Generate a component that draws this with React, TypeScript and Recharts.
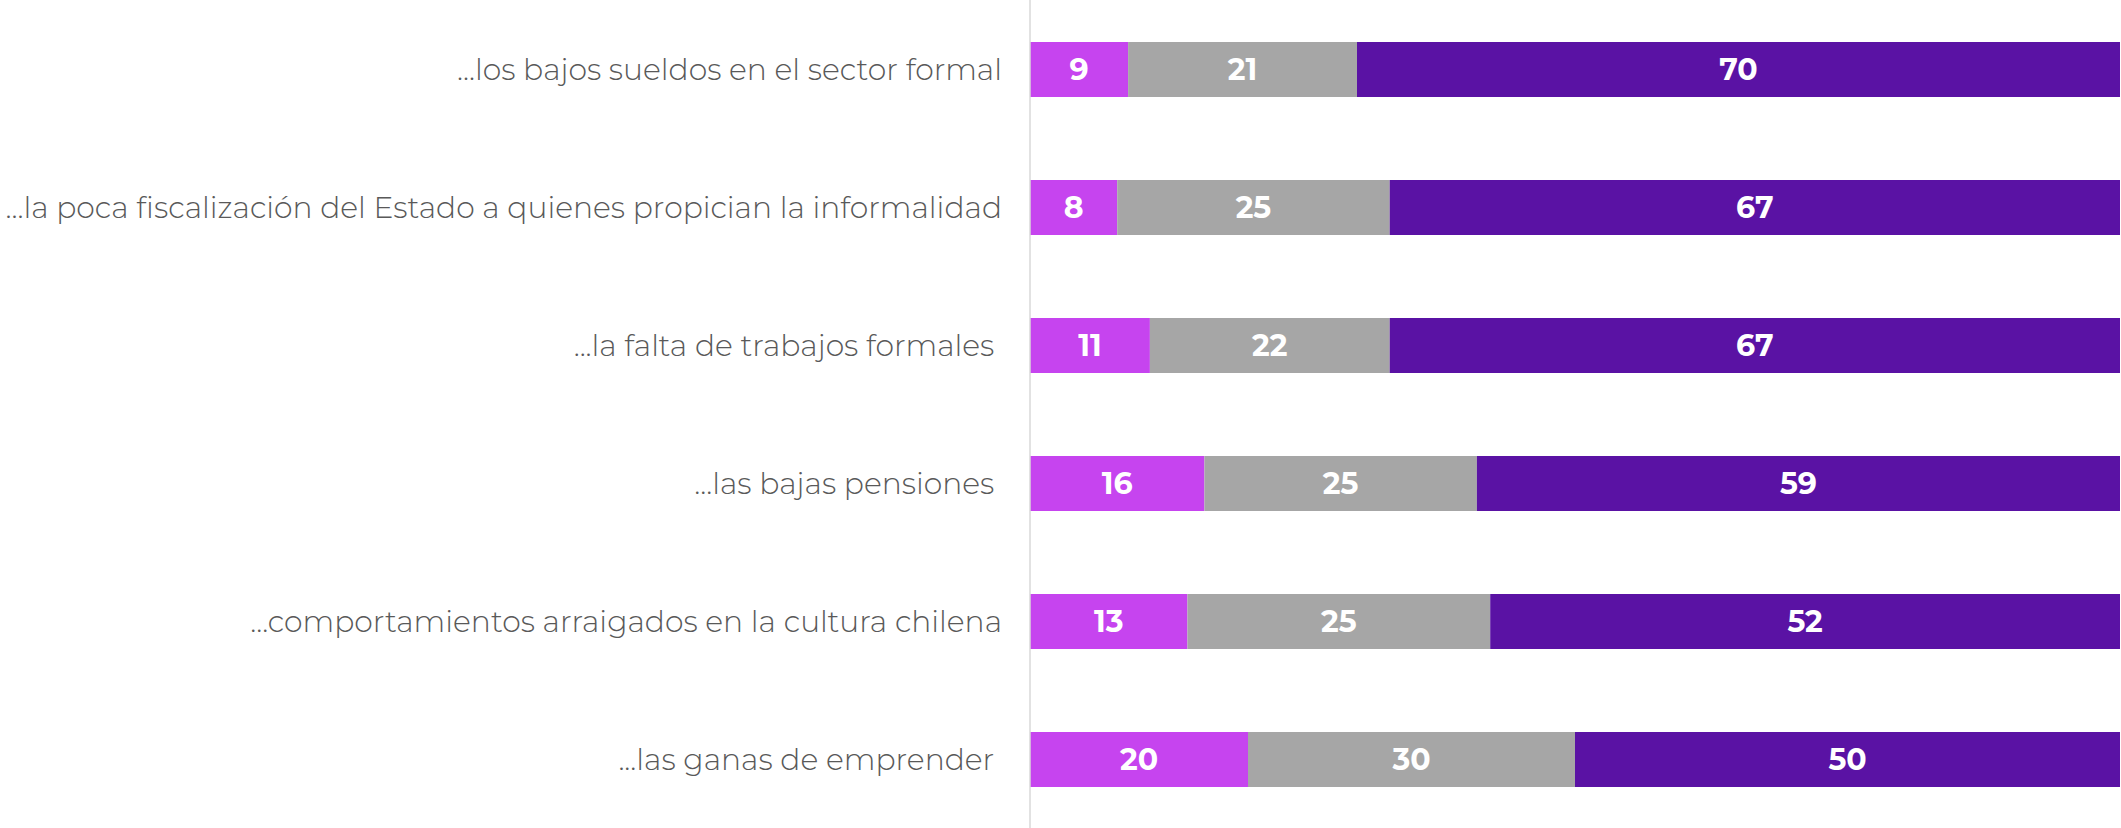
import { BarChart, Bar, XAxis, YAxis, LabelList } from 'recharts';

const categories = [
  '...los bajos sueldos en el sector formal',
  '...la poca fiscalización del Estado a quienes propician la informalidad',
  '...la falta de trabajos formales\u00a0',
  '...las bajas pensiones\u00a0',
  '...comportamientos arraigados en la cultura chilena',
  '...las ganas de emprender\u00a0',
];

const lowValues = [9, 8, 11, 16, 13, 20];
const midValues = [21, 25, 22, 25, 25, 30];
const highValues = [70, 67, 67, 59, 52, 50];

const COLORS = ['#C644EF', '#A6A6A6', '#5A12A4'];

const data = categories.map((name, i) => ({
  name,
  low: lowValues[i],
  mid: midValues[i],
  high: highValues[i],
}));

const labelStyle = {
  fill: '#ffffff',
  fontSize: 30,
  fontWeight: 700,
  fontFamily: 'Montserrat, "Open Sans", sans-serif',
};

export default function App() {
  return (
    <div style={{ position: 'absolute', left: 0, top: 0, background: '#fff' }}>
      <BarChart
        width={2121}
        height={828}
        data={data}
        layout="vertical"
        stackOffset="expand"
        margin={{ top: 0, right: 1, bottom: 0, left: 0 }}
      >
        <XAxis type="number" hide domain={[0, 1]} />
        <YAxis
          type="category"
          dataKey="name"
          width={1030}
          tickLine={false}
          tickSize={0}
          tickMargin={28}
          axisLine={{ stroke: '#d9d9d9', strokeWidth: 1.5 }}
          tick={{ fill: '#595959', fontSize: 29.8, fontFamily: 'Montserrat, "Open Sans", sans-serif', fontWeight: 300 }}
          interval={0}
        />
        <Bar dataKey="low" stackId="a" fill={COLORS[0]} barSize={55} isAnimationActive={false}>
          <LabelList dataKey="low" position="center" style={labelStyle} />
        </Bar>
        <Bar dataKey="mid" stackId="a" fill={COLORS[1]} barSize={55} isAnimationActive={false}>
          <LabelList dataKey="mid" position="center" style={labelStyle} />
        </Bar>
        <Bar dataKey="high" stackId="a" fill={COLORS[2]} barSize={55} isAnimationActive={false}>
          <LabelList dataKey="high" position="center" style={labelStyle} />
        </Bar>
      </BarChart>
    </div>
  );
}
